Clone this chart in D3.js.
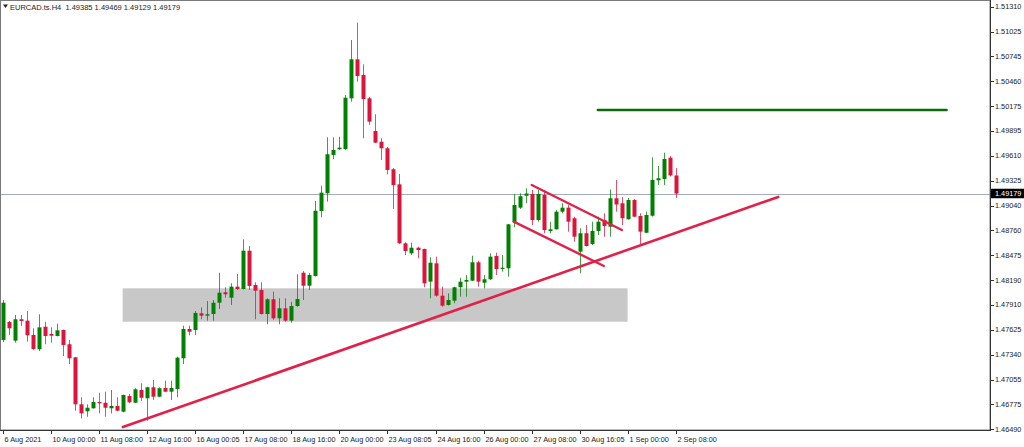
<!DOCTYPE html>
<html><head><meta charset="utf-8">
<script src="https://cdn.jsdelivr.net/npm/d3@7"></script>
<style>html,body{margin:0;padding:0;background:#fff;overflow:hidden}</style>
</head><body>
<script>
const title = "EURCAD.ts.H4  1.49385 1.49469 1.49129 1.49179";
const opens = [
1.47509,1.47714,1.47501,1.47745,1.47729,1.47566,1.47403,1.47660,1.47577,1.47554,
1.47623,1.47460,1.47311,1.46775,1.46695,1.46730,1.46801,1.46793,1.46730,1.46756,
1.46691,1.46870,1.46793,1.46938,1.46844,1.46969,1.46862,1.46961,1.46919,1.46950,
1.47300,1.47634,1.47623,1.47813,1.47786,1.47805,1.47934,1.48053,1.47991,1.48117,
1.48090,1.48527,1.48136,1.48079,1.47805,1.47973,1.47756,1.47870,1.47729,1.47896,
1.48276,1.48128,1.48239,1.48980,1.49182,1.49619,1.49684,1.49687,1.50265,1.50710,
1.50531,1.50265,1.49892,1.49770,1.49695,1.49456,1.49284,1.48611,1.48497,1.48561,
1.48547,1.48174,1.48383,1.48014,1.47908,1.47957,1.48110,1.48174,1.48185,1.48395,
1.48162,1.48201,1.48467,1.48322,1.48326,1.48854,1.49018,1.49154,1.49174,1.48877,
1.49162,1.48752,1.48771,1.48972,1.49018,1.48897,1.48516,1.48726,1.48604,1.48752,
1.48877,1.48801,1.49125,1.49068,1.48885,1.49105,1.48923,1.48732,1.48926,1.49330,
1.49345,1.49588,1.49385];
const closes = [
1.47934,1.47642,1.47745,1.47725,1.47562,1.47406,1.47653,1.47554,1.47558,1.47619,
1.47452,1.47300,1.46775,1.46672,1.46736,1.46801,1.46787,1.46736,1.46756,1.46702,
1.46881,1.46798,1.46946,1.46850,1.46969,1.46862,1.46958,1.46919,1.46961,1.47307,
1.47634,1.47603,1.47817,1.47786,1.47802,1.47934,1.48048,1.48030,1.48117,1.48090,
1.48527,1.48125,1.48071,1.47805,1.47973,1.47756,1.47870,1.47729,1.47896,1.47976,
1.48128,1.48250,1.48983,1.49189,1.49627,1.49676,1.49702,1.50272,1.50710,1.50520,
1.50257,1.49999,1.49759,1.49695,1.49448,1.49276,1.48611,1.48524,1.48561,1.48535,
1.48155,1.48390,1.48014,1.47900,1.47965,1.48110,1.48174,1.48193,1.48395,1.48174,
1.48201,1.48459,1.48318,1.48333,1.48828,1.49048,1.49148,1.49179,1.48877,1.49174,
1.48763,1.48771,1.48972,1.49018,1.48858,1.48687,1.48726,1.48581,1.48752,1.48858,
1.48809,1.49125,1.49054,1.48897,1.49105,1.48915,1.48744,1.48934,1.49334,1.49353,
1.49573,1.49385,1.49179];
const highs = [
1.47965,1.47725,1.47794,1.47794,1.47839,1.47642,1.47802,1.47717,1.47653,1.47694,
1.47627,1.47509,1.47315,1.46855,1.46775,1.46855,1.46907,1.46919,1.46938,1.46855,
1.46885,1.46893,1.46958,1.47015,1.46975,1.47052,1.46969,1.47044,1.47044,1.47318,
1.47672,1.47672,1.47839,1.47882,1.47953,1.47965,1.48276,1.48110,1.48155,1.48261,
1.48657,1.48581,1.48167,1.48167,1.47984,1.48060,1.47984,1.47984,1.47945,1.48258,
1.48296,1.48273,1.49094,1.49269,1.49821,1.49821,1.49827,1.50303,1.50930,1.51128,
1.50653,1.50280,1.50083,1.49809,1.49710,1.49470,1.49402,1.48623,1.48618,1.48573,
1.48550,1.48452,1.48459,1.48117,1.48041,1.48117,1.48219,1.48250,1.48470,1.48413,
1.48250,1.48497,1.48504,1.48478,1.48830,1.49174,1.49182,1.49239,1.49219,1.49219,
1.49219,1.48858,1.48991,1.49068,1.49048,1.48915,1.48783,1.48820,1.48858,1.48915,
1.48954,1.49225,1.49334,1.49140,1.49128,1.49117,1.48954,1.48972,1.49592,1.49493,
1.49645,1.49607,1.49469];
const lows = [
1.47486,1.47566,1.47478,1.47668,1.47489,1.47395,1.47383,1.47460,1.47478,1.47550,
1.47326,1.47235,1.46702,1.46615,1.46634,1.46725,1.46672,1.46634,1.46672,1.46697,
1.46684,1.46787,1.46790,1.46813,1.46588,1.46824,1.46855,1.46915,1.46824,1.46855,
1.47235,1.47562,1.47566,1.47745,1.47729,1.47729,1.47862,1.47991,1.47908,1.48079,
1.48085,1.48079,1.47745,1.47800,1.47688,1.47737,1.47688,1.47717,1.47706,1.47888,
1.47965,1.48079,1.48233,1.48908,1.49086,1.49570,1.49676,1.49676,1.50227,1.50455,
1.49809,1.49961,1.49755,1.49562,1.49398,1.49003,1.48604,1.48478,1.48478,1.48440,
1.48110,1.47984,1.48003,1.47888,1.47902,1.47927,1.48003,1.48003,1.48181,1.48117,
1.48098,1.48193,1.48250,1.48288,1.48231,1.48794,1.49003,1.49068,1.48820,1.48858,
1.48726,1.48726,1.48769,1.48954,1.48744,1.48630,1.48269,1.48575,1.48592,1.48706,
1.48687,1.48687,1.48972,1.48820,1.48883,1.48911,1.48592,1.48726,1.48915,1.49276,
1.49276,1.49373,1.49129];
const xTickBars = [0,8,16,24,32,40,48,56,64,72,80,88,96,104,112];
const xTickLabels = ["6 Aug 2021","10 Aug 00:00","11 Aug 08:00","12 Aug 16:00","16 Aug 00:05","17 Aug 08:00","18 Aug 16:00","20 Aug 00:00","23 Aug 08:05","24 Aug 16:00","26 Aug 00:00","27 Aug 08:00","30 Aug 16:05","1 Sep 00:00","2 Sep 08:00"];
const yTickLabels = ["1.51310","1.51025","1.50745","1.50460","1.50175","1.49895","1.49610","1.49325","1.49040","1.48760","1.48475","1.48190","1.47910","1.47625","1.47340","1.47055","1.46775","1.46490"];
const bidPrice = 1.49179;
// drawings: [bar, price] endpoints
const trendLine = [[20, 1.46516], [129, 1.49140]];
const channelUpper = [[88, 1.49276], [103, 1.48763]];
const channelLower = [[85, 1.48858], [100, 1.48353]];
const resistanceLine = [[99, 1.50132], [157, 1.50132]];
const zoneBox = [[20, 1.48098], [104, 1.47717]];

const W = 1024, H = 447, plotR = 990, plotB = 430;
const svg = d3.select("body").append("svg").attr("width", W).attr("height", H)
  .style("font-family", "'Liberation Sans', Arial, sans-serif");
svg.append("rect").attr("width", W).attr("height", H).attr("fill", "#fff");

const x = d3.scaleLinear().domain([0, 112]).range([2.7, 676]);
const y = d3.scaleLinear().domain([1.46490, 1.51310]).range([429.3, 6.7]);

const plot = svg.append("g");
// zone box
plot.append("rect")
  .attr("x", x(zoneBox[0][0]) - 0.3).attr("y", y(zoneBox[0][1]))
  .attr("width", x(zoneBox[1][0]) - x(zoneBox[0][0])).attr("height", y(zoneBox[1][1]) - y(zoneBox[0][1]))
  .attr("fill", "#c8c8c8");

// bid line
plot.append("line").attr("x1", 0).attr("x2", plotR).attr("y1", Math.round(y(bidPrice)) + 0.5).attr("y2", Math.round(y(bidPrice)) + 0.5)
  .attr("stroke", "#a3abbd").attr("stroke-width", 1);

const up = "#008000", dn = "#dc143c";
const bars = d3.range(opens.length);
const cg = plot.append("g");
cg.selectAll("line.wick").data(bars).join("line")
  .attr("x1", i => Math.round(x(i)) + 0.5).attr("x2", i => Math.round(x(i)) + 0.5)
  .attr("y1", i => y(Math.max(highs[i], opens[i], closes[i])))
  .attr("y2", i => y(Math.min(lows[i], opens[i], closes[i])))
  .attr("stroke", i => closes[i] >= opens[i] ? up : dn).attr("stroke-width", 1).attr("stroke-opacity", 0.75);
cg.selectAll("rect.body").data(bars).join("rect")
  .attr("x", i => Math.round(x(i)) - 1.5).attr("width", 4)
  .attr("y", i => y(Math.max(opens[i], closes[i])))
  .attr("height", i => Math.max(1.2, Math.abs(y(opens[i]) - y(closes[i]))))
  .attr("fill", i => closes[i] >= opens[i] ? up : dn);

function seg(p, color, w) {
  plot.append("line").attr("x1", x(p[0][0])).attr("y1", y(p[0][1]))
    .attr("x2", x(p[1][0])).attr("y2", y(p[1][1]))
    .attr("stroke", color).attr("stroke-width", w).attr("stroke-linecap", "round");
}
seg(trendLine, "#e0214a", 2.6);
seg(channelUpper, "#e0214a", 2.4);
seg(channelLower, "#e0214a", 2.4);
seg(resistanceLine, "#0b6b0b", 2.6);

// frame
svg.append("rect").attr("x", 0.5).attr("y", 0.5).attr("width", plotR - 0.5).attr("height", plotB - 0.5)
  .attr("fill", "none").attr("stroke", "#7a7a7a").attr("stroke-width", 1);
svg.append("line").attr("x1", 0).attr("x2", plotR).attr("y1", plotB + 0.5).attr("y2", plotB + 0.5).attr("stroke", "#333");
svg.append("line").attr("x1", plotR + 0.5).attr("x2", plotR + 0.5).attr("y1", 0).attr("y2", plotB + 1).attr("stroke", "#333");

// y axis
const yAxis = svg.append("g");
yTickLabels.forEach(t => {
  const v = parseFloat(t), yy = y(v);
  yAxis.append("line").attr("x1", plotR).attr("x2", plotR + 4).attr("y1", Math.round(yy) + 0.5).attr("y2", Math.round(yy) + 0.5).attr("stroke", "#333");
  yAxis.append("text").attr("x", 995).attr("y", yy + 2.6).attr("font-size", 7.3).attr("fill", "#222").text(t);
});
// bid box
const by = y(bidPrice);
svg.append("rect").attr("x", 991).attr("y", by - 4.8).attr("width", 33).attr("height", 9.5).attr("fill", "#000");
svg.append("text").attr("x", 995).attr("y", by + 2.6).attr("font-size", 7.3).attr("fill", "#fff").text(bidPrice.toFixed(5));

// x axis
const xAxis = svg.append("g");
xTickBars.forEach((b, k) => {
  const xx = Math.round(x(b)) + 0.5;
  xAxis.append("line").attr("x1", xx).attr("x2", xx).attr("y1", plotB).attr("y2", plotB + 4).attr("stroke", "#333");
  xAxis.append("text").attr("x", xx + 1).attr("y", 442).attr("font-size", 7.3).attr("fill", "#222").text(xTickLabels[k]);
});

// title
svg.append("path").attr("d", "M3,4.5 L8,4.5 L5.5,8 Z").attr("fill", "#222");
svg.append("text").attr("x", 10).attr("y", 9.5).attr("font-size", 7.5).attr("fill", "#222").attr("xml:space", "preserve").style("white-space", "pre").text(title);
</script>
</body></html>
